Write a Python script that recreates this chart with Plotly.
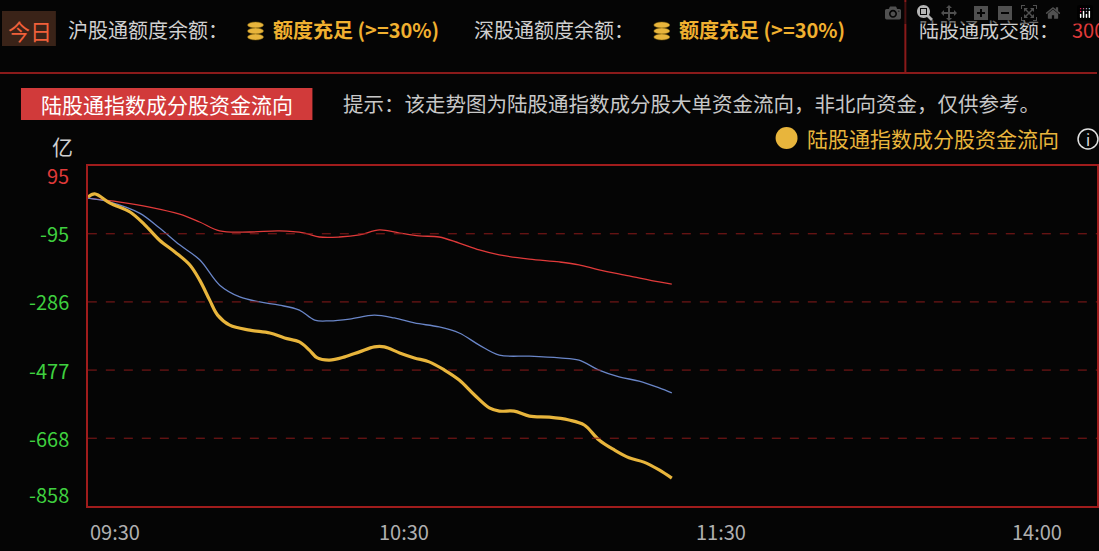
import plotly.graph_objects as go

# minutes since 09:30 (trading time)
t_yellow = [0,1.3,4.2,8,10.8,13.6,16.5,19.3,21.2,23.1,24.6,26.9,30.7,34.5,37.3,40.1,42,43.5,45.8,48.7,51.5,54.3,56.2,59.1,61.9,64.7,67.6,70.4,73.3,76.1,78,80.8,83.7,87.5,91.2,94.1,96.9,99.8,102.6,105.4,108.3,110.7]
v_yellow = [8,17,-9,-34,-70,-113,-146,-182,-225,-281,-323,-351,-365,-373,-387,-398,-421,-443,-449,-440,-426,-412,-412,-429,-443,-454,-477,-505,-547,-583,-592,-592,-606,-609,-617,-631,-673,-701,-723,-735,-757,-780]
t_blue = [0,4.2,9.8,13.6,17.4,21.2,25,28.8,32.6,36.3,40.1,43,45.8,49.6,54.3,58.1,61.9,66.6,70.4,74.2,78,83.7,89.4,93.1,96.9,100.7,104.5,108.3,110.7]
v_blue = [5,-6,-37,-79,-126,-168,-239,-272,-286,-295,-309,-337,-339,-334,-323,-331,-345,-356,-373,-407,-435,-438,-443,-449,-477,-496,-508,-527,-541]
t_red = [0,6.1,11.7,17.4,21.2,25,30.7,36.3,41.1,43.9,47.7,51.5,55.3,59.1,62.8,66.6,70.4,74.2,78,83.7,89.4,93.1,96.9,102.6,108.3,110.7]
v_red = [5,-6,-20,-40,-62,-87,-90,-87,-93,-104,-104,-98,-84,-93,-101,-104,-121,-140,-154,-166,-174,-182,-196,-213,-230,-236]

x_tickvals = [0, 60, 120, 180]
x_ticktext = ["09:30", "10:30", "11:30", "14:00"]
y_tickvals = [95, -95, -286, -477, -668, -858]

W, H = 1099, 551
def px(x): return x / W
def py(y): return 1 - y / H

FONT = "Noto Sans CJK SC"
fig = go.Figure()
fig.add_trace(go.Scatter(x=t_red, y=v_red, mode="lines", line=dict(color="#e03a3a", width=1.3, shape="spline"), hoverinfo="skip"))
fig.add_trace(go.Scatter(x=t_blue, y=v_blue, mode="lines", line=dict(color="#6a86c8", width=1.3, shape="spline"), hoverinfo="skip"))
fig.add_trace(go.Scatter(x=t_yellow, y=v_yellow, mode="lines", line=dict(color="#e8b53c", width=3.2, shape="spline"), hoverinfo="skip"))

shapes = []
for v in y_tickvals[1:-1]:
    shapes.append(dict(type="line", xref="paper", yref="y", x0=px(88), x1=1, y0=v, y1=v,
                       line=dict(color="#8a1a1a", width=1, dash="dash")))
shapes.append(dict(type="line", xref="paper", yref="paper", x0=0, x1=1, y0=py(73), y1=py(73), line=dict(color="#8a1a1a", width=2)))
shapes.append(dict(type="line", xref="paper", yref="paper", x0=px(907), x1=px(907), y0=1, y1=py(73), line=dict(color="#8a1a1a", width=2)))
shapes.append(dict(type="rect", xref="paper", yref="paper", x0=px(2), x1=px(56), y0=py(46), y1=py(11), fillcolor="#3a2318", line=dict(width=0)))
shapes.append(dict(type="rect", xref="paper", yref="paper", x0=px(21), x1=px(313), y0=py(120), y1=py(88), fillcolor="#d13a3a", line=dict(width=0)))
for cx in (256, 663):
    for dy in (-6, 0, 6):
        shapes.append(dict(type="circle", xref="paper", yref="paper", x0=px(cx-8), x1=px(cx+8), y0=py(31+dy+3), y1=py(31+dy-3),
                           fillcolor="#e8b53c", line=dict(color="#8a6a10", width=0.5)))
shapes.append(dict(type="circle", xref="paper", yref="paper", x0=px(777), x1=px(799), y0=py(149), y1=py(127), fillcolor="#e8b53c", line=dict(width=0)))
shapes.append(dict(type="circle", xref="paper", yref="paper", x0=px(1080), x1=px(1100), y0=py(149), y1=py(129), fillcolor="rgba(0,0,0,0)", line=dict(color="#e0e0e0", width=1.5)))

ann = []
def txt(x, y, s, color, size=21, anchor="left", xref="paper", yref="paper", yshift=0):
    ann.append(dict(x=x, y=y, xref=xref, yref=yref, text=s, showarrow=False, xanchor=anchor, yanchor="middle",
                    font=dict(family=FONT, size=size, color=color), yshift=yshift))
txt(px(6), py(30), "今日", "#f0603a", 22)
txt(px(66), py(30), "沪股通额度余额：", "#d0d0d0", 20)
txt(px(271), py(30), "<b>额度充足 (>=30%)</b>", "#f0b030", 20)
txt(px(473), py(30), "深股通额度余额：", "#d0d0d0", 20)
txt(px(678), py(30), "<b>额度充足 (>=30%)</b>", "#f0b030", 20)
txt(px(919), py(30), "陆股通成交额：", "#d0d0d0", 20)
txt(px(1072), py(30), "300", "#e03a3a", 20)
txt(px(167), py(104), "陆股通指数成分股资金流向", "#ffffff", 21, "center")
txt(px(342), py(103), "提示：该走势图为陆股通指数成分股大单资金流向，非北向资金，仅供参考。", "#c8c8c8", 20.5)
txt(px(806), py(138), "陆股通指数成分股资金流向", "#e8b53c", 21)
txt(px(1090), py(139), "i", "#e0e0e0", 15, "center")
txt(px(63), py(146), "亿", "#d0d0d0", 21, "center")
for v in y_tickvals:
    shift = -9 if v == 95 else (12 if v == -858 else 0)
    txt(px(71), v, str(v), "#e03a3a" if v > 0 else "#3fd03f", 20, "right", yref="y", yshift=shift)
for v, s in zip(x_tickvals, x_ticktext):
    txt(v, py(531), s, "#b0b0b0", 20, "left" if v == 0 else "center", xref="x")

fig.update_layout(
    width=W, height=H, margin=dict(l=0, r=0, t=0, b=0),
    paper_bgcolor="#050505", plot_bgcolor="#050505", showlegend=False,
    shapes=shapes, annotations=ann,
    xaxis=dict(domain=[px(88), 1], range=[0, 191.3], showgrid=False, zeroline=False, showticklabels=False,
               showline=True, linecolor="#a01c1c", linewidth=2, mirror=True),
    yaxis=dict(domain=[py(506), py(166)], range=[-858, 95], showgrid=False, zeroline=False, showticklabels=False,
               showline=True, linecolor="#a01c1c", linewidth=2, mirror=True),
)
fig.write_html("out.html")
with open("out.html", encoding="utf-8") as f:
    html = f.read()
html = html.replace("<head>", "<head><style>html,body{margin:0;padding:0;background:#050505;overflow:hidden}</style>", 1)
with open("out.html", "w", encoding="utf-8") as f:
    f.write(html)
